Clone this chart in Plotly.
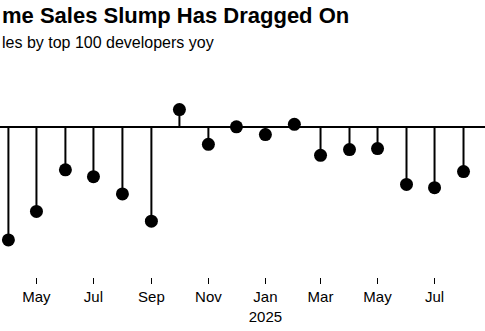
import plotly.graph_objects as go

months = ["2024-04-01", "2024-05-01", "2024-06-01", "2024-07-01", "2024-08-01",
          "2024-09-01", "2024-10-01", "2024-11-01", "2024-12-01", "2025-01-01",
          "2025-02-01", "2025-03-01", "2025-04-01", "2025-05-01", "2025-06-01",
          "2025-07-01", "2025-08-01"]
yoy = [-45.0, -33.6, -17.0, -19.7, -26.6, -37.5, 7.1, -6.8, 0.2, -2.9,
       1.2, -11.2, -8.9, -8.5, -22.8, -24.1, -17.7]

tick_vals = ["2024-05-01", "2024-07-01", "2024-09-01", "2024-11-01",
             "2025-01-01", "2025-03-01", "2025-05-01", "2025-07-01"]
tick_text = ["May", "Jul", "Sep", "Nov", "Jan<br>2025", "Mar", "May", "Jul"]

title_text = "me Sales Slump Has Dragged On"
subtitle_text = "les by top 100 developers yoy"

stem_x, stem_y = [], []
for m, v in zip(months, yoy):
    stem_x += [m, m, None]
    stem_y += [0, v, None]

fig = go.Figure()
fig.add_trace(go.Scatter(x=stem_x, y=stem_y, mode="lines",
                         line=dict(color="black", width=2), hoverinfo="skip",
                         showlegend=False))
fig.add_trace(go.Scatter(x=months, y=yoy, mode="markers",
                         marker=dict(color="black", size=13),
                         showlegend=False, cliponaxis=False))

fig.update_layout(
    width=485, height=331,
    margin=dict(l=0, r=0, t=75, b=54),
    paper_bgcolor="white", plot_bgcolor="white",
    font=dict(family="Liberation Sans, Arial, sans-serif", color="black"),
    xaxis=dict(type="date", range=["2024-03-23", "2025-08-24"],
               tickvals=tick_vals, ticktext=tick_text,
               showgrid=False, showline=False, zeroline=False,
               ticks="outside", ticklen=6, tickwidth=1, tickcolor="black",
               tickfont=dict(size=15, color="black")),
    yaxis=dict(range=[-59.8, 20.9], showgrid=False, showticklabels=False,
               ticks="", zeroline=True, zerolinecolor="black", zerolinewidth=1.5),
    annotations=[
        dict(text="<b>" + title_text + "</b>", xref="paper", yref="paper",
             x=0, y=1.297, xanchor="left", yanchor="middle", showarrow=False,
             font=dict(size=22, color="black")),
        dict(text=subtitle_text, xref="paper", yref="paper",
             x=0, y=1.162, xanchor="left", yanchor="middle", showarrow=False,
             font=dict(size=16, color="black")),
    ],
)

fig.write_html("out.html")
